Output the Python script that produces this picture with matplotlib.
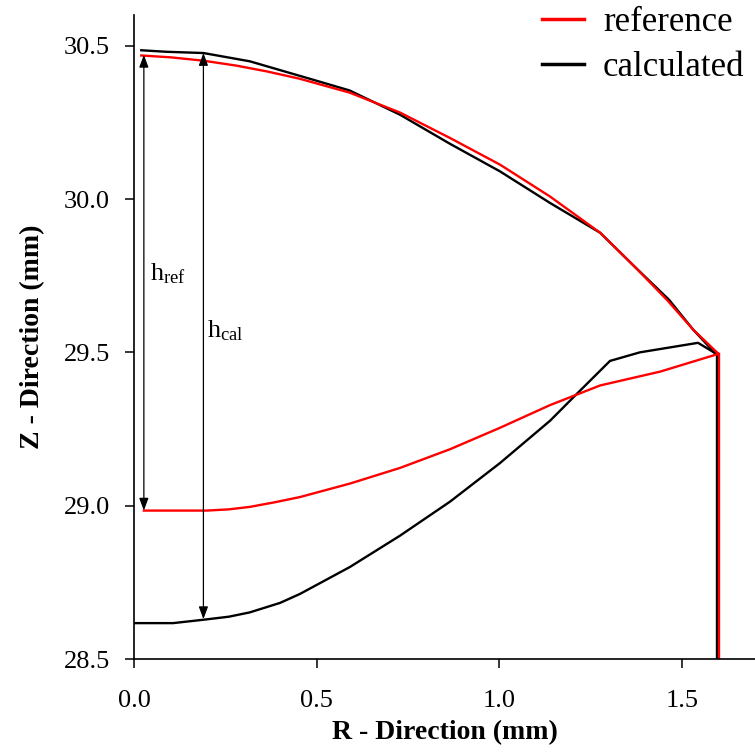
import matplotlib
matplotlib.use("Agg")
import matplotlib.pyplot as plt

plt.rcParams['font.family'] = ['Liberation Serif', 'DejaVu Serif']
plt.rcParams['mathtext.fontset'] = 'custom'
plt.rcParams['mathtext.rm'] = 'Liberation Serif'
plt.rcParams['mathtext.it'] = 'Liberation Serif:italic'

# reference profile
ref_top_r = [0.02, 0.10, 0.19, 0.28, 0.364, 0.454, 0.59, 0.728, 0.865, 1.002, 1.139, 1.276, 1.37, 1.459, 1.53, 1.60]
ref_top_z = [30.468, 30.462, 30.451, 30.435, 30.416, 30.392, 30.347, 30.282, 30.199, 30.112, 30.008, 29.89, 29.78, 29.671, 29.575, 29.495]
ref_bot_r = [0.027, 0.20, 0.26, 0.317, 0.385, 0.454, 0.591, 0.728, 0.865, 1.002, 1.139, 1.276, 1.44, 1.60]
ref_bot_z = [28.984, 28.984, 28.988, 28.996, 29.011, 29.028, 29.072, 29.123, 29.184, 29.254, 29.328, 29.392, 29.437, 29.495]
ref_side_r = [1.602, 1.602]
ref_side_z = [29.495, 28.3]

# calculated profile
cal_top_r = [0.02, 0.09, 0.19, 0.317, 0.49, 0.59, 0.728, 0.865, 1.002, 1.139, 1.276, 1.37, 1.465, 1.53, 1.59]
cal_top_z = [30.485, 30.48, 30.476, 30.449, 30.389, 30.354, 30.275, 30.18, 30.09, 29.987, 29.89, 29.78, 29.671, 29.575, 29.498]
cal_bot_r = [0.0, 0.107, 0.19, 0.26, 0.317, 0.40, 0.454, 0.591, 0.728, 0.865, 1.002, 1.139,
             1.221, 1.276, 1.303, 1.385, 1.544, 1.59]
cal_bot_z = [28.617, 28.617, 28.628, 28.638, 28.652, 28.683, 28.712, 28.800, 28.902, 29.013, 29.139,
             29.277, 29.375, 29.44, 29.472, 29.50, 29.531, 29.498]
cal_side_r = [1.597, 1.597]
cal_side_z = [29.498, 28.3]

# height markers
h_ref_r = 0.027
h_ref_z = (30.47, 28.984)
h_cal_r = 0.19
h_cal_z = (30.476, 28.63)

xticks = [0.0, 0.5, 1.0, 1.5]
yticks = [28.5, 29.0, 29.5, 30.0, 30.5]

fig = plt.figure(figsize=(7.55, 7.54), dpi=100)
ax = fig.add_axes([134/755, 95/754, 621/755, 644/754])

lw = 1.7
ax.plot(cal_top_r, cal_top_z, color='black', lw=lw, label='calculated')
ax.plot(cal_bot_r, cal_bot_z, color='black', lw=lw)
ax.plot(cal_side_r, cal_side_z, color='black', lw=lw)
ax.plot(ref_top_r, ref_top_z, color='red', lw=lw, label='reference')
ax.plot(ref_bot_r, ref_bot_z, color='red', lw=lw)
ax.plot(ref_side_r, ref_side_z, color='red', lw=lw)

for r, (z1, z2) in [(h_ref_r, h_ref_z), (h_cal_r, h_cal_z)]:
    ax.annotate('', xy=(r, z2), xytext=(r, z1),
                arrowprops=dict(arrowstyle='<|-|>,head_length=0.75,head_width=0.28',
                                color='black', lw=0.9, shrinkA=0, shrinkB=0))

ax.text(0.044, 29.733, r'h$_{\mathrm{ref}}$', fontsize=19, ha='left', va='baseline')
ax.text(0.2, 29.55, r'h$_{\mathrm{cal}}$', fontsize=19, ha='left', va='baseline')

ax.set_xlim(0, 1.70)
ax.set_ylim(28.5, 30.6)
ax.set_xticks(xticks)
ax.set_xticklabels([f'{v:.1f}' for v in xticks])
ax.set_yticks(yticks)
ax.set_yticklabels([f'{v:.1f}' for v in yticks])
ax.spines['top'].set_visible(False)
ax.spines['right'].set_visible(False)
for s in ('left', 'bottom'):
    ax.spines[s].set_linewidth(1.2)
ax.tick_params(axis='x', direction='out', length=6.5, width=1.1, labelsize=19, pad=16)
ax.tick_params(axis='y', direction='out', length=6.5, width=1.1, labelsize=19, pad=11)

ax.set_xlabel('R - Direction (mm)', fontsize=20, fontweight='bold', labelpad=6)
ax.set_ylabel('Z - Direction (mm)', fontsize=20, fontweight='bold', labelpad=13)

handles, labels = ax.get_legend_handles_labels()
order = [1, 0]
leg = ax.legend([handles[i] for i in order], [labels[i] for i in order],
                loc='upper left', bbox_to_anchor=(542/755, 1 - 6/754), bbox_transform=fig.transFigure,
                frameon=False, fontsize=25, handlelength=1.2, handletextpad=0.55,
                borderpad=0, borderaxespad=0, labelspacing=0.36)
for h in leg.legend_handles:
    h.set_linewidth(2.5)

fig.savefig('out.png', dpi=100)
